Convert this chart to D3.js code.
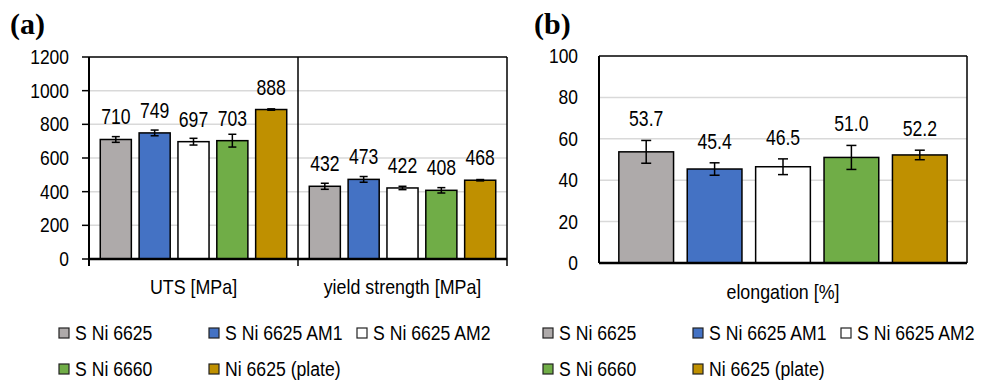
<!DOCTYPE html>
<html>
<head>
<meta charset="utf-8">
<script src="https://cdn.jsdelivr.net/npm/d3@7"></script>
<style>
  body { margin: 0; background: #fff; }
  text { font-family: "Liberation Sans", Arial, sans-serif; fill: #000; }
</style>
</head>
<body>
<script>
// mechanical properties

var series = ["S Ni 6625", "S Ni 6625 AM1", "S Ni 6625 AM2", "S Ni 6660", "Ni 6625 (plate)"];
var colors = ["#AEAAAA", "#4472C4", "#FFFFFF", "#70AD47", "#BF9000"];

var strengthCats = ["UTS [MPa]", "yield strength [MPa]"];
var utsValues = [710, 749, 697, 703, 888];
var utsErr = [17, 17, 20, 38, 4];
var yieldValues = [432, 473, 422, 408, 468];
var yieldErr = [18, 17, 10, 16, 4];
var strengthTicks = [0, 200, 400, 600, 800, 1000, 1200];

var elongCats = ["elongation [%]"];
var elongValues = [53.7, 45.4, 46.5, 51.0, 52.2];
var elongErr = [5.5, 3, 3.8, 5.8, 2.3];
var elongTicks = [0, 20, 40, 60, 80, 100];

var W = 1000, H = 381;

var svg = d3.select("body").append("svg")
  .attr("width", W)
  .attr("height", H);

// narrow-looking text (the original figure is squeezed sideways)
function label(g, x, y, str, anchor, size, sq) {
  return g.append("text")
    .attr("transform", "translate(" + x + "," + y + ") scale(" + sq + ",1)")
    .attr("text-anchor", anchor || "middle")
    .style("font-size", size + "px")
    .text(str);
}

function drawChart(opts) {
  var g = svg.append("g");
  var x0 = d3.scaleBand().domain(opts.cats).range([opts.left, opts.right]);
  var x1 = d3.scaleBand().domain(series).range([0, x0.bandwidth()])
    .paddingInner(0.2).paddingOuter(0.29);
  var y = d3.scaleLinear().domain([0, opts.max]).range([opts.bottom, opts.top]);

  // grid
  g.selectAll(".grid").data(opts.ticks.filter(function(t) { return t > 0 && t < opts.max; }))
    .enter().append("line")
    .attr("x1", opts.left).attr("x2", opts.right)
    .attr("y1", function(d) { return y(d); }).attr("y2", function(d) { return y(d); })
    .attr("stroke", "#D9D9D9").attr("stroke-width", 1.5);

  // y tick labels
  opts.ticks.forEach(function(t) {
    label(g, opts.left - opts.labelGap, y(t) + 7, t, "end", 21, 0.83);
  });

  var groups = g.selectAll(".cat").data(opts.rows).enter().append("g")
    .attr("transform", function(d, i) { return "translate(" + x0(opts.cats[i]) + ",0)"; });

  groups.selectAll("rect")
    .data(function(d) { return d.values.map(function(v, j) { return {v: v, e: d.err[j], s: series[j], c: colors[j]}; }); })
    .enter().append("rect")
    .attr("x", function(d) { return x1(d.s); })
    .attr("y", function(d) { return y(d.v); })
    .attr("width", x1.bandwidth())
    .attr("height", function(d) { return y(0) - y(d.v); })
    .attr("fill", function(d) { return d.c; })
    .attr("stroke", "#000").attr("stroke-width", 1.5);

  // error bars + value labels
  groups.each(function(d) {
    var gg = d3.select(this);
    d.values.forEach(function(v, j) {
      var cx = x1(series[j]) + x1.bandwidth() / 2;
      var e = d.err[j], cw = opts.cap;
      gg.append("line").attr("x1", cx).attr("x2", cx)
        .attr("y1", y(v - e)).attr("y2", y(v + e))
        .attr("stroke", "#000").attr("stroke-width", 1.5);
      [v - e, v + e].forEach(function(yy) {
        gg.append("line").attr("x1", cx - cw).attr("x2", cx + cw)
          .attr("y1", y(yy)).attr("y2", y(yy))
          .attr("stroke", "#000").attr("stroke-width", 1.5);
      });
      var ly = opts.aboveErr ? y(v + e) - 14 : y(v) - 15;
      label(gg, cx, ly, opts.fmt(v), "middle", 22, 0.8);
    });
  });

  // category titles
  opts.cats.forEach(function(c) {
    label(g, x0(c) + x0.bandwidth() / 2, opts.bottom + opts.titleGap, c, "middle", 21, 0.85);
  });

  // frame
  var frame = "#000";
  g.append("line").attr("x1", opts.left).attr("x2", opts.right)
    .attr("y1", opts.top).attr("y2", opts.top).attr("stroke", frame).attr("stroke-width", 1.5);
  g.append("line").attr("x1", opts.right).attr("x2", opts.right)
    .attr("y1", opts.top).attr("y2", opts.bottom + opts.tickDown).attr("stroke", frame).attr("stroke-width", 1.5);
  g.append("line").attr("x1", opts.left).attr("x2", opts.left)
    .attr("y1", opts.top).attr("y2", opts.bottom + opts.tickDown).attr("stroke", frame).attr("stroke-width", 2);
  g.append("line").attr("x1", opts.left).attr("x2", opts.right)
    .attr("y1", opts.bottom).attr("y2", opts.bottom).attr("stroke", frame).attr("stroke-width", 2.5);

  if (opts.tickLeft) {
    opts.ticks.forEach(function(t) {
      g.append("line").attr("x1", opts.left - opts.tickLeft).attr("x2", opts.left)
        .attr("y1", y(t)).attr("y2", y(t)).attr("stroke", frame).attr("stroke-width", 1.5);
    });
  }
  // dividers between categories
  opts.cats.slice(1).forEach(function(c) {
    g.append("line").attr("x1", x0(c)).attr("x2", x0(c))
      .attr("y1", opts.top).attr("y2", opts.bottom + opts.tickDown)
      .attr("stroke", frame).attr("stroke-width", 1.5);
  });

  // panel letter
  g.append("text").attr("x", opts.letterX).attr("y", 34)
    .style("font-family", "'Liberation Serif', 'Times New Roman', serif")
    .style("font-weight", "bold").style("font-size", "30px")
    .text(opts.letter);

  // legend
  var cols = [0, 150, 298];
  series.forEach(function(s, i) {
    var lx = opts.legendX + cols[i % 3];
    var ly = (i < 3 ? 333 : 369);
    g.append("rect").attr("x", lx).attr("y", ly - 5).attr("width", 10).attr("height", 10)
      .attr("fill", colors[i]).attr("stroke", "#222").attr("stroke-width", 1.2);
    label(g, lx + 16, ly + 7, s, "start", 21, 0.84);
  });
}

drawChart({
  letter: "(a)", letterX: 10,
  cats: strengthCats,
  rows: [{values: utsValues, err: utsErr}, {values: yieldValues, err: yieldErr}],
  max: 1200, ticks: strengthTicks,
  left: 89, right: 507, top: 57, bottom: 259,
  labelGap: 20, tickLeft: 7, tickDown: 7, titleGap: 35,
  cap: 4, aboveErr: false,
  fmt: d3.format("d"),
  legendX: 59
});

drawChart({
  letter: "(b)", letterX: 534,
  cats: elongCats,
  rows: [{values: elongValues, err: elongErr}],
  max: 100, ticks: elongTicks,
  left: 599, right: 967, top: 56, bottom: 263,
  labelGap: 21, tickLeft: 0, tickDown: 0, titleGap: 36,
  cap: 5, aboveErr: true,
  fmt: d3.format(".1f"),
  legendX: 543
});
</script>
</body>
</html>
